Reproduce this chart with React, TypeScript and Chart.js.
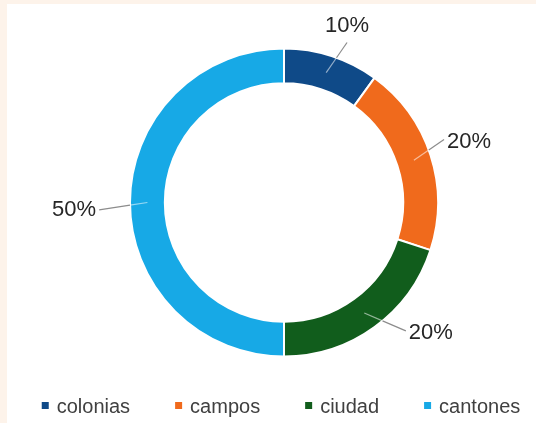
import { useEffect, useRef } from "react";
import { Chart, registerables } from "chart.js";

Chart.register(...registerables);

const categories = ["colonias", "campos", "ciudad", "cantones"];
const values = [10, 20, 20, 50];
const percentLabels = ["10%", "20%", "20%", "50%"];

const palette = ["#0f4a88", "#f06a1c", "#115d1c", "#17a9e6"];

// leader-line tweaks: angle shift (deg, clockwise) and extra radius beyond the ring
const leaderShift = [3.5, -3.5, -7.5, -2.3];
const leaderExtra = [18, 18, 23, 31];

const FONT = "'Liberation Sans', Arial, sans-serif";

const labelPlugin = {
  id: "outsideLabels",
  afterDatasetsDraw(chart: any) {
    const ctx = chart.ctx;
    const meta = chart.getDatasetMeta(0);
    meta.data.forEach((arc: any, i: number) => {
      const { x, y, startAngle, endAngle, innerRadius, outerRadius } = arc.getProps(
        ["x", "y", "startAngle", "endAngle", "innerRadius", "outerRadius"],
        true
      );
      const mid = (startAngle + endAngle) / 2;
      const rm = (innerRadius + outerRadius) / 2;
      const ax = x + Math.cos(mid) * rm;
      const ay = y + Math.sin(mid) * rm;
      const ea = mid + (leaderShift[i] * Math.PI) / 180;
      const re = outerRadius + leaderExtra[i];
      const ex = x + Math.cos(ea) * re;
      const ey = y + Math.sin(ea) * re;
      // intersection with outer radius
      const dx = ex - ax, dy = ey - ay;
      const fx = ax - x, fy = ay - y;
      const a = dx * dx + dy * dy;
      const b = 2 * (fx * dx + fy * dy);
      const c = fx * fx + fy * fy - outerRadius * outerRadius;
      const disc = Math.max(b * b - 4 * a * c, 0);
      const t = (-b + Math.sqrt(disc)) / (2 * a);
      const ix = ax + dx * t, iy = ay + dy * t;
      ctx.save();
      ctx.lineWidth = 1.2;
      ctx.strokeStyle = "rgba(255,255,255,0.55)";
      ctx.beginPath();
      ctx.moveTo(ax, ay);
      ctx.lineTo(ix, iy);
      ctx.stroke();
      ctx.strokeStyle = "#8c8c8c";
      ctx.beginPath();
      ctx.moveTo(ix, iy);
      ctx.lineTo(ex, ey);
      ctx.stroke();

      ctx.fillStyle = "#262626";
      ctx.font = `22px ${FONT}`;
      ctx.textBaseline = "middle";
      const fromTop = ((ea + Math.PI / 2) * 180) / Math.PI;
      const norm = ((fromTop % 360) + 360) % 360;
      if (norm < 30 || norm > 330) {
        ctx.textAlign = "center";
        ctx.fillText(percentLabels[i], ex, ey - 17);
      } else if (ex >= x) {
        ctx.textAlign = "left";
        ctx.fillText(percentLabels[i], ex + 3, ey + 2);
      } else {
        ctx.textAlign = "right";
        ctx.fillText(percentLabels[i], ex - 3, ey);
      }
      ctx.restore();
    });
  },
  afterDraw(chart: any) {
    const ctx = chart.ctx;
    const ds = chart.data.datasets[0];
    ctx.save();
    ctx.font = `20px ${FONT}`;
    const box = 7;
    const gapBox = 8;
    const gapItem = 45;
    const widths = chart.data.labels.map((l: string) => box + gapBox + ctx.measureText(l).width);
    const total = widths.reduce((s: number, w: number) => s + w, 0) + gapItem * (widths.length - 1);
    const cx = (chart.chartArea.left + chart.chartArea.right) / 2 - 3;
    let xpos = cx - total / 2;
    const ly = chart.height - 16;
    chart.data.labels.forEach((l: string, i: number) => {
      ctx.fillStyle = ds.backgroundColor[i];
      ctx.fillRect(xpos, ly - 5, box, box);
      ctx.fillStyle = "#404040";
      ctx.textAlign = "left";
      ctx.textBaseline = "middle";
      ctx.fillText(l, xpos + box + gapBox, ly);
      xpos += widths[i] + gapItem;
    });
    ctx.restore();
  },
};

export default function App() {
  const ref = useRef<HTMLCanvasElement | null>(null);
  useEffect(() => {
    if (!ref.current) return;
    const chart = new Chart(ref.current, {
      type: "doughnut",
      data: {
        labels: categories,
        datasets: [
          {
            data: values,
            backgroundColor: palette,
            borderColor: "#ffffff",
            borderWidth: 2,
          },
        ],
      },
      options: {
        responsive: false,
        animation: false,
        radius: 154,
        cutout: 118,
        layout: { padding: { left: 25, right: 0, top: 45, bottom: 67 } },
        plugins: {
          legend: { display: false },
          tooltip: { enabled: false },
        },
      } as any,
      plugins: [labelPlugin],
    });
    return () => chart.destroy();
  }, []);
  return (
    <div
      style={{
        position: "absolute",
        left: 0,
        top: 0,
        width: 536,
        height: 423,
        background: "#fdf3ea",
        overflow: "hidden",
      }}
    >
      <div
        style={{
          position: "absolute",
          left: 7,
          top: 4,
          width: 529,
          height: 419,
          background: "#ffffff",
        }}
      >
        <canvas ref={ref} width={529} height={419} style={{ display: "block" }} />
      </div>
    </div>
  );
}
